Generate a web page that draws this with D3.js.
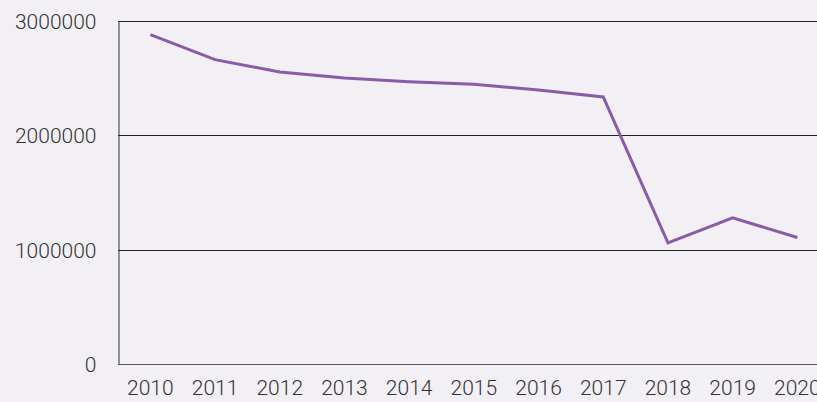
<!DOCTYPE html>
<html>
<head>
<meta charset="utf-8">
<script src="https://cdn.jsdelivr.net/npm/d3@7"></script>
<style>
  html, body { margin: 0; padding: 0; background: #f2f0f5; overflow: hidden; }
  svg { display: block; }
  text { font-family: Roboto, sans-serif; font-weight: 300; fill: #333; }
</style>
</head>
<body>
<script>
// datos
var anios = ["2010", "2011", "2012", "2013", "2014", "2015", "2016", "2017", "2018", "2019", "2020"]
var valores = [2880000, 2662000, 2554000, 2502000, 2469000, 2446000, 2397000, 2336000, 1059000, 1278000, 1106000]
var ticksY = [0, 1000000, 2000000, 3000000]

var width = 817
var height = 402

var margin = { top: 21, bottom: 38, left: 118 }

var svg = d3.select("body").append("svg")
  .attr("width", width)
  .attr("height", height)

// escala X (bandas, la última se corta en el borde)
var escalaX = d3.scaleBand()
  .domain(anios)
  .range([margin.left, margin.left + 11 * 64.7])

var escalaY = d3.scaleLinear()
  .domain([0, 3000000])
  .range([height - margin.bottom, margin.top])

// líneas de rejilla
svg.append("g")
  .selectAll("line")
  .data(ticksY.slice(1))
  .enter()
  .append("line")
  .attr("x1", margin.left)
  .attr("x2", width)
  .attr("y1", d => Math.round(escalaY(d)) + 0.5)
  .attr("y2", d => Math.round(escalaY(d)) + 0.5)
  .attr("stroke", "#222")
  .attr("stroke-width", 1)

// eje Y
var ejeY = d3.axisLeft(escalaY).tickValues(ticksY).tickSize(0).tickPadding(22).tickFormat(d3.format("d"))
svg.append("g")
  .attr("transform", "translate(" + (margin.left + 0.5) + ",0)")
  .call(ejeY)
  .call(g => g.select(".domain").attr("stroke", "#333"))
  .selectAll("text")
    .attr("font-size", 21)
    .attr("font-family", "Roboto, sans-serif")
    .attr("dy", "0.35em")

// eje X
var ejeX = d3.axisBottom(escalaX).tickSize(0).tickPadding(16)
svg.append("g")
  .attr("transform", "translate(0," + (Math.round(escalaY(0)) + 0.5) + ")")
  .call(ejeX)
  .call(g => g.select(".domain").attr("stroke", "#555").attr("d", "M" + margin.left + ",0H" + width))
  .selectAll("text")
    .attr("font-size", 21)
    .attr("font-family", "Roboto, sans-serif")

// línea de datos
var linea = d3.line()
  .x((d, i) => escalaX(anios[i]) + escalaX.bandwidth() / 2)
  .y(d => escalaY(d))

svg.append("path")
  .datum(valores)
  .attr("d", linea)
  .attr("fill", "none")
  .attr("stroke", "#8a5ba6")
  .attr("stroke-width", 3)
  .attr("stroke-linejoin", "miter")
</script>
</body>
</html>
